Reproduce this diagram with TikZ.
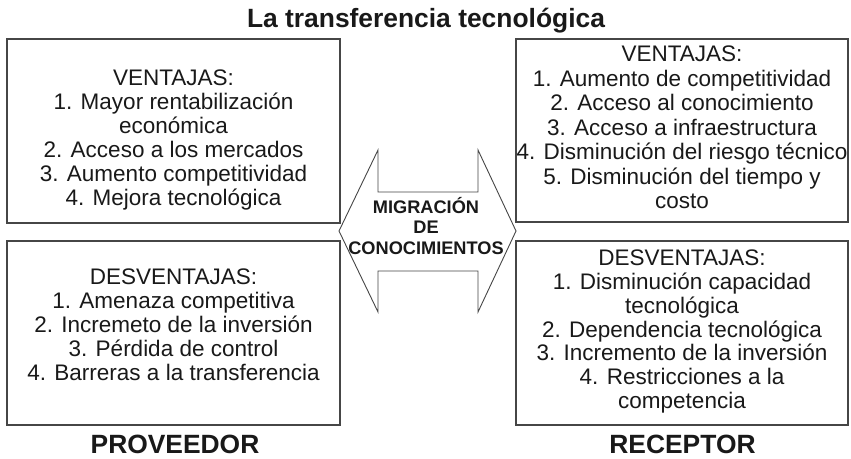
\documentclass[tikz,border=0pt]{standalone}
\usepackage{fontspec}
\setmainfont{Liberation Sans}
\definecolor{ink}{RGB}{25,25,25}
\definecolor{edge}{RGB}{70,70,70}
\begin{document}
\begin{tikzpicture}[x=1pt,y=-1pt,
  box/.style={draw=edge,line width=1.2pt,inner sep=0pt,outer sep=0pt},
  body/.style={font=\fontsize{22.5}{24}\selectfont,align=center,inner sep=0pt,text=ink,anchor=north},
  heading/.style={font=\bfseries\fontsize{26.4}{30}\selectfont,inner sep=0pt,text=ink,anchor=base},
  arrowline/.style={draw=edge,line width=0.9pt,fill=white,line join=miter},
  migtext/.style={font=\bfseries\fontsize{18.2}{20.5}\selectfont,align=center,inner sep=0pt,text=ink,anchor=south}]
\useasboundingbox (0,0) rectangle (851,458);
\fill[white] (0,0) rectangle (851,458);

% title
\node[heading] (title) at (426,27.5) {La transferencia tecnológica};

% boxes
\node[box,minimum width=333pt,minimum height=184pt] (pv) at (173.5,131) {};
\node[box,minimum width=333pt,minimum height=184pt] (pd) at (173.5,333) {};
\node[box,minimum width=332pt,minimum height=183pt] (rv) at (682,130.5) {};
\node[box,minimum width=332pt,minimum height=184pt] (rd) at (682,333) {};

% arrow
\draw[arrowline] (339,231) -- (378,150) -- (378,192) -- (478,192) -- (478,150)
  -- (516,231) -- (478,312) -- (478,271) -- (378,271) -- (378,312) -- cycle;
\node[migtext] (mig) at (426,254.4) {MIGRACIÓN\\DE\\CONOCIMIENTOS};

% texts
\node[body] (pvt) at (173.5,70) {VENTAJAS:\\1. Mayor rentabilización\\económica\\2. Acceso a los mercados\\3. Aumento competitividad\\4. Mejora tecnológica};
\node[body,font=\fontsize{22.5}{24.5}\selectfont] (rvt) at (682,46) {VENTAJAS:\\1. Aumento de competitividad\\2. Acceso al conocimiento\\3. Acceso a infraestructura\\4. Disminución del riesgo técnico\\5. Disminución del tiempo y\\costo};
\node[body] (pdt) at (173.5,269) {DESVENTAJAS:\\1. Amenaza competitiva\\2. Incremeto de la inversión\\3. Pérdida de control\\4. Barreras a la transferencia};
\node[body,font=\fontsize{22.5}{23.7}\selectfont] (rdt) at (682,250) {DESVENTAJAS:\\1. Disminución capacidad\\tecnológica\\2. Dependencia tecnológica\\3. Incremento de la inversión\\4. Restricciones a la\\competencia};

% bottom labels
\node[heading] (prov) at (175,453.3) {PROVEEDOR};
\node[heading] (rec) at (682.5,453.3) {RECEPTOR};
\end{tikzpicture}
\end{document}
